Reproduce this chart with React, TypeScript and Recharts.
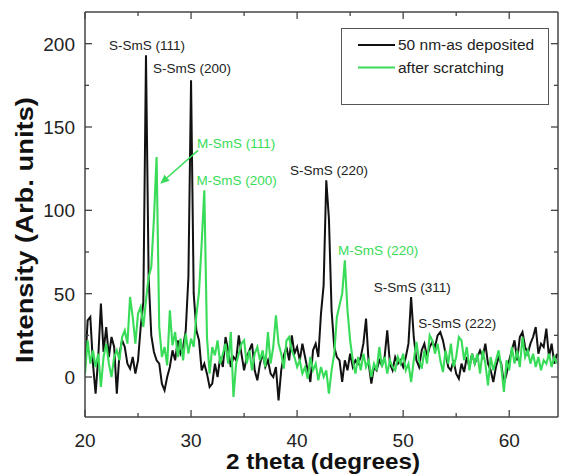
import React from 'react';
import { LineChart, Line, XAxis, YAxis, Legend, ReferenceDot, ReferenceLine } from 'recharts';

// 2 theta sampling grid (degrees)
const START = 20;
const STEP = 0.25;

// 50 nm film, as deposited
const asDeposited = [
  5, 34, 36, 8, -10, 12, 44, 15, 30, 12, 24, 18, -10, 14, 22, 18, 8, 5, 12, 2,
  10, 30, 45, 193, 60, 25, 15, 10, 8, -4, -8, 0, 6, 16, 10, 22, 14, 18, 28, 60,
  178, 50, 28, 22, 4, 8, 2, -6, -4, 8, 0, 12, 6, 24, 16, 6, 12, 10, 25, 14,
  4, 12, 16, 20, 4, -2, 8, 14, 6, 10, 2, 0, 6, -14, 4, 13, 18, 10, 25, 14,
  18, 10, 20, 12, 4, -3, 16, 20, 12, 38, 55, 118, 95, 40, 18, 12, 10, -3, 10, 4,
  14, 6, 10, 8, 12, 20, 35, 8, -4, 6, 4, 10, 7, 12, 28, 8, 4, 12, 8, 10,
  6, 12, 20, 48, 24, 10, 6, 16, 20, 12, 18, 21, 18, 25, 27, 22, 14, 6, 4, 10,
  2, -1, 8, 3, 12, 6, 14, 8, 12, 16, 12, 20, 8, 4, -3, 6, 12, 8, -4, 2,
  10, 16, 22, 10, 24, 27, 18, 14, 20, 24, 30, 14, 20, 18, 29, 12, 20, 8, 14,
];

// same film after scratching
const afterScratching = [
  2, 22, 8, 16, 6, 14, -6, 12, 20, 8, 0, 12, 16, 10, 24, 28, 20, 48, 36, 20,
  38, 42, 30, 46, 60, 66, 95, 132, 30, 12, 18, 7, 40, 19, 27, 12, 23, 10, 26, 14,
  23, 18, 37, 51, 80, 112, 24, 2, 18, 13, 22, 8, 14, 20, 8, 27, -12, 8, 14, 20,
  22, 8, 16, 4, 14, 18, 10, 16, 6, 27, 8, 18, 37, 20, 14, 5, 22, 24, 16, 12,
  6, 10, 2, 6, -1, 12, 4, 8, -2, 6, 0, 4, -10, 4, 14, 36, 43, 50, 70, 40,
  22, 10, 2, 12, 4, 14, 6, 10, 0, 8, 4, 18, 6, 12, 2, 10, 6, 4, 12, 8,
  14, 4, 8, -3, 10, 21, 10, 5, 16, 8, 25, 22, 14, 20, 10, 3, 16, 8, 20, 6,
  12, 24, 22, 10, 18, 4, 14, 8, 14, 2, 16, 8, -5, 12, 4, 10, 16, 6, -9, 10,
  4, 18, 8, 16, 6, 24, 12, 16, 8, 14, 6, 12, 4, 10, 8, 14, 6, 12, 8,
];

const xTicks = [20, 25, 30, 35, 40, 45, 50, 55, 60];
const yTicks = [0, 25, 50, 75, 100, 125, 150, 175, 200];

const peakLabels = [
  { text: 'S-SmS (111)', x: 25.85, y: 199, green: false },
  { text: 'S-SmS (200)', x: 30.1, y: 185, green: false },
  { text: 'M-SmS (111)', x: 34.25, y: 140, green: true },
  { text: 'M-SmS (200)', x: 34.3, y: 118, green: true },
  { text: 'S-SmS (220)', x: 43.0, y: 124, green: false },
  { text: 'M-SmS (220)', x: 47.65, y: 76, green: true },
  { text: 'S-SmS (311)', x: 50.85, y: 54, green: false },
  { text: 'S-SmS (222)', x: 55.1, y: 32, green: false },
];

// arrow from the M-SmS (111) label to its peak
const arrow = [{ x: 30.66, y: 136 }, { x: 27.1, y: 116 }];

const GREEN = '#38dc58';
const BLACK = '#111';
const AXIS = '#444';
const FONT = '"Liberation Sans", Arial, sans-serif';

const data = asDeposited.map((v, i) => ({
  theta: START + i * STEP,
  black: v,
  green: afterScratching[i],
}));

const LeftTick = (p: any) => {
  const major = p.payload.value % 50 === 0;
  return (
    <g>
      <line x1={p.x} x2={p.x + (major ? 7 : 4)} y1={p.y} y2={p.y} stroke={AXIS} strokeWidth={1.3} />
      {major && (
        <text x={p.x - 10} y={p.y} dy="0.36em" textAnchor="end" fontSize={19} fontFamily={FONT} fill="#222">
          {p.payload.value}
        </text>
      )}
    </g>
  );
};

const RightTick = (p: any) => {
  const major = p.payload.value % 50 === 0;
  return <line x1={p.x} x2={p.x - (major ? 7 : 4)} y1={p.y} y2={p.y} stroke={AXIS} strokeWidth={1.3} />;
};

const BottomTick = (p: any) => {
  const major = p.payload.value % 10 === 0;
  return (
    <g>
      <line x1={p.x} x2={p.x} y1={p.y} y2={p.y - (major ? 7 : 4)} stroke={AXIS} strokeWidth={1.3} />
      {major && (
        <text x={p.x} y={p.y + 30} textAnchor="middle" fontSize={19} fontFamily={FONT} fill="#222">
          {p.payload.value}
        </text>
      )}
    </g>
  );
};

const TopTick = (p: any) => {
  const major = p.payload.value % 10 === 0;
  return <line x1={p.x} x2={p.x} y1={p.y} y2={p.y + (major ? 7 : 4)} stroke={AXIS} strokeWidth={1.3} />;
};

const renderLegend = (props: any) => (
  <svg width={208} height={77} style={{ display: 'block' }}>
    <rect x={0.5} y={0.5} width={207} height={76} fill="#fff" stroke="#555" strokeWidth={1} />
    {(props.payload || []).map((item: any, i: number) => (
      <g key={item.value}>
        <line x1={17} x2={54} y1={17 + i * 22.5} y2={17 + i * 22.5} stroke={item.color} strokeWidth={1.8} />
        <text x={57} y={17 + i * 22.5} dy="0.35em" fontSize={15.5} fontFamily={FONT} fill="#222">
          {item.value}
        </text>
      </g>
    ))}
  </svg>
);

const ArrowShape = (p: any) => {
  const { x1, y1, x2, y2 } = p;
  const ang = Math.atan2(y2 - y1, x2 - x1);
  const L = 9;
  const W = 4;
  const bx = x2 - L * Math.cos(ang);
  const by = y2 - L * Math.sin(ang);
  const nx = -Math.sin(ang) * W;
  const ny = Math.cos(ang) * W;
  return (
    <g>
      <line x1={x1} y1={y1} x2={bx} y2={by} stroke={GREEN} strokeWidth={1.5} />
      <polygon points={`${x2},${y2} ${bx + nx},${by + ny} ${bx - nx},${by - ny}`} fill={GREEN} />
    </g>
  );
};

const App: React.FC = () => {
  return (
    <div style={{ position: 'absolute', left: 0, top: 0, width: 563, height: 476, background: '#fff' }}>
      <LineChart
        width={563}
        height={476}
        data={data}
        margin={{ top: 11, right: 4, left: 25, bottom: 19 }}
      >
        <XAxis
          dataKey="theta"
          type="number"
          domain={[20, 64.6]}
          allowDataOverflow
          ticks={xTicks}
          interval={0}
          tickSize={0}
          tickMargin={0}
          tickLine={false}
          tick={BottomTick}
          height={40}
          stroke={AXIS}
          strokeWidth={1.5}
          label={{
            content: (lp: any) => {
              const vb = lp.viewBox;
              return (
                <text
                  x={vb.x + vb.width / 2 + 1.5}
                  y={vb.y + 52}
                  textAnchor="middle"
                  fontSize={22}
                  fontWeight="bold"
                  fontFamily={FONT}
                  fill="#111"
                  textLength={194}
                  lengthAdjust="spacingAndGlyphs"
                >
                  2 theta (degrees)
                </text>
              );
            },
          }}
        />
        <XAxis
          xAxisId="t"
          orientation="top"
          dataKey="theta"
          type="number"
          domain={[20, 64.6]}
          allowDataOverflow
          ticks={xTicks}
          interval={0}
          tickSize={0}
          tickMargin={0}
          tickLine={false}
          tick={TopTick}
          height={1}
          stroke={AXIS}
          strokeWidth={1.5}
        />
        <YAxis
          type="number"
          domain={[-24, 219]}
          allowDataOverflow
          ticks={yTicks}
          interval={0}
          tickSize={0}
          tickMargin={0}
          tickLine={false}
          tick={LeftTick}
          width={60}
          stroke={AXIS}
          strokeWidth={1.5}
          label={{
            content: (lp: any) => {
              const vb = lp.viewBox;
              const cx = vb.x + 8;
              const cy = vb.y + vb.height / 2 + 15.5;
              return (
                <text
                  x={cx}
                  y={cy}
                  transform={`rotate(-90 ${cx} ${cy})`}
                  textAnchor="middle"
                  fontSize={23}
                  fontWeight="bold"
                  fontFamily={FONT}
                  fill="#111"
                  textLength={266}
                  lengthAdjust="spacingAndGlyphs"
                >
                  Intensity (Arb. units)
                </text>
              );
            },
          }}
        />
        <YAxis
          yAxisId="r"
          orientation="right"
          type="number"
          domain={[-24, 219]}
          allowDataOverflow
          ticks={yTicks}
          interval={0}
          tickSize={0}
          tickMargin={0}
          tickLine={false}
          tick={RightTick}
          width={1}
          stroke={AXIS}
          strokeWidth={1.5}
        />
        <Legend
          layout="vertical"
          align="center"
          verticalAlign="middle"
          content={renderLegend}
          wrapperStyle={{ left: 341, top: 28, width: 208, height: 77 }}
        />
        <Line
          type="linear"
          dataKey="black"
          name="50 nm-as deposited"
          stroke={BLACK}
          strokeWidth={2}
          dot={false}
          isAnimationActive={false}
        />
        <Line
          type="linear"
          dataKey="green"
          name="after scratching"
          stroke={GREEN}
          strokeWidth={2.1}
          dot={false}
          isAnimationActive={false}
        />
        <ReferenceLine segment={arrow} shape={ArrowShape} ifOverflow="visible" />
        {peakLabels.map((l) => (
          <ReferenceDot
            key={l.text}
            x={l.x}
            y={l.y}
            r={0}
            ifOverflow="visible"
            shape={(p: any) => (
              <text
                x={p.cx}
                y={p.cy}
                dy="0.35em"
                textAnchor="middle"
                fontSize={13.5}
                fontFamily={FONT}
                fill={l.green ? GREEN : '#222'}
              >
                {l.text}
              </text>
            )}
          />
        ))}
      </LineChart>
    </div>
  );
};

export default App;
